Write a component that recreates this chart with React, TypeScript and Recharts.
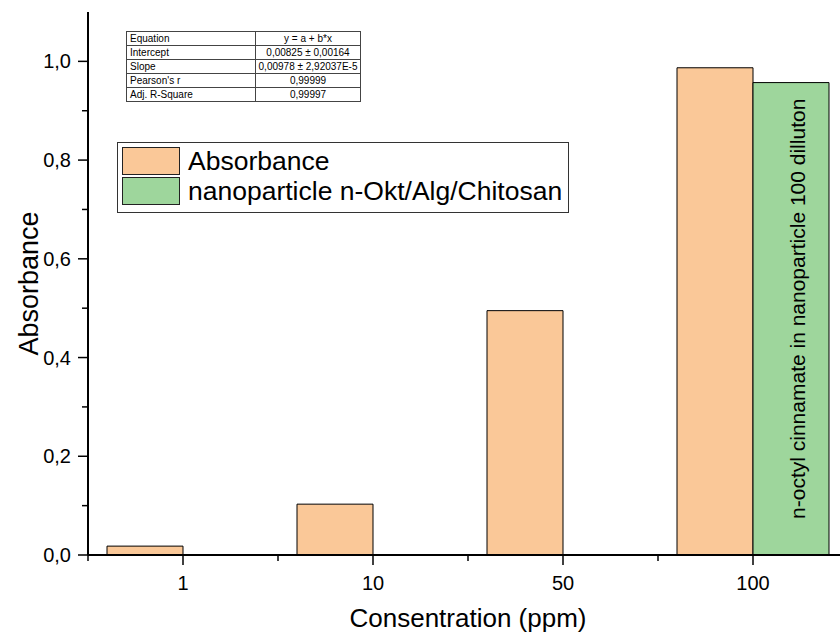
import { BarChart, Bar, XAxis, YAxis, Legend, LabelList, Label } from "recharts"

const concentrations = ["1", "10", "50", "100"]
const absorbance = [0.018, 0.103, 0.495, 0.987]
const nanoparticle = [null, null, null, 0.957]
const yTicks = [0, 0.1, 0.2, 0.3, 0.4, 0.5, 0.6, 0.7, 0.8, 0.9, 1.0]
const fitLabels = ["Equation", "Intercept", "Slope", "Pearson's r", "Adj. R-Square"]
const fitValues = [
  "y = a + b*x",
  "0,00825 ± 0,00164",
  "0,00978 ± 2,92037E-5",
  "0,99999",
  "0,99997",
]
const noteText = "n-octyl cinnamate in nanoparticle 100 dilluton"

const data = concentrations.map((conc, i) => ({
  conc,
  absorbance: absorbance[i],
  nano: nanoparticle[i],
  note: nanoparticle[i] != null ? noteText : "",
}))

const FONT = "'Liberation Sans', Arial, sans-serif"
const ORANGE = "#FAC898"
const GREEN = "#9ED69C"
const HALF_BAND = 95

function YTick(props: any) {
  const { x, y, payload } = props
  const v = payload.value
  const major = Math.round(v * 10) % 2 === 0
  return (
    <g>
      <line x1={x - (major ? 10 : 6)} x2={x} y1={y} y2={y} stroke="#000" strokeWidth={1.5} />
      {major && (
        <text x={x - 17} y={y + 7} textAnchor="end" fontSize={20} fontFamily={FONT} fill="#000">
          {v.toFixed(1).replace(".", ",")}
        </text>
      )}
    </g>
  )
}

function XTick(props: any) {
  const { x, y, payload } = props
  return (
    <g>
      <line x1={x} x2={x} y1={y} y2={y + 10} stroke="#000" strokeWidth={1.5} />
      <line x1={x - HALF_BAND} x2={x - HALF_BAND} y1={y} y2={y + 6} stroke="#000" strokeWidth={1.5} />
      <text x={x} y={y + 35} textAnchor="middle" fontSize={20} fontFamily={FONT} fill="#000">
        {payload.value}
      </text>
    </g>
  )
}

function NoteLabel(props: any) {
  const { x, y, width, height, value } = props
  if (!value || height == null) return null
  const cx = x + width / 2 + 14
  const cy = y + height / 2 - 10
  return (
    <text
      x={cx}
      y={cy}
      transform={`rotate(-90, ${cx}, ${cy})`}
      textAnchor="middle"
      fontSize={21}
      fontFamily={FONT}
      fill="#000"
    >
      {value}
    </text>
  )
}

function LegendBox(props: any) {
  const items = props.payload || []
  return (
    <div
      style={{
        border: "1px solid #333",
        background: "#fff",
        boxSizing: "border-box",
        width: 452,
        height: 71,
        padding: "3px 4px",
        fontFamily: FONT,
      }}
    >
      {items.map((it: any) => (
        <div key={it.value} style={{ display: "flex", alignItems: "center", height: 30 }}>
          <div
            style={{
              width: 58,
              height: 28,
              background: it.color,
              border: "1.5px solid #222",
              boxSizing: "border-box",
              marginRight: 8,
              flex: "none",
            }}
          />
          <span style={{ fontSize: 26.5, color: "#000", lineHeight: "30px", whiteSpace: "nowrap" }}>
            {it.value}
          </span>
        </div>
      ))}
    </div>
  )
}

function FitTable() {
  return (
    <table
      style={{
        position: "absolute",
        left: 126,
        top: 31,
        width: 235,
        borderCollapse: "collapse",
        fontFamily: FONT,
        fontSize: 10,
        color: "#000",
        background: "#fff",
        tableLayout: "fixed",
      }}
    >
      <tbody>
        {fitLabels.map((lab, i) => (
          <tr key={lab} style={{ height: 14 }}>
            <td style={{ border: "1px solid #444", padding: "0 3px", width: 122, lineHeight: "12px" }}>{lab}</td>
            <td
              style={{
                border: "1px solid #444",
                padding: 0,
                textAlign: "center",
                lineHeight: "12px",
                whiteSpace: "nowrap",
              }}
            >
              {fitValues[i]}
            </td>
          </tr>
        ))}
      </tbody>
    </table>
  )
}

export default function App() {
  return (
    <div
      style={{
        position: "fixed",
        left: 0,
        top: 0,
        width: 840,
        height: 634,
        overflow: "hidden",
        background: "#fff",
      }}
    >
      <BarChart
        width={848}
        height={634}
        data={data}
        margin={{ top: 12, right: 0, left: 28, bottom: 0 }}
        barCategoryGap="10%"
        barGap={0}
      >
        <XAxis
          dataKey="conc"
          height={79}
          tickSize={0}
          tickMargin={0}
          tickLine={false}
          axisLine={{ stroke: "#000", strokeWidth: 2 }}
          tick={<XTick />}
          interval={0}
        >
          <Label
            content={(p: any) => {
              const vb = p.viewBox
              return (
                <text
                  x={vb.x + vb.width / 2}
                  y={vb.y + 72}
                  textAnchor="middle"
                  fontSize={26}
                  fontFamily={FONT}
                  fill="#000"
                >
                  Consentration (ppm)
                </text>
              )
            }}
          />
        </XAxis>
        <YAxis
          width={60}
          domain={[0, 1.1]}
          ticks={yTicks}
          tickSize={0}
          tickMargin={0}
          tickLine={false}
          axisLine={{ stroke: "#000", strokeWidth: 2 }}
          tick={<YTick />}
          interval={0}
        >
          <Label
            content={(p: any) => {
              const vb = p.viewBox
              const cx = 38
              const cy = vb.y + vb.height / 2
              return (
                <text
                  x={cx}
                  y={cy}
                  transform={`rotate(-90, ${cx}, ${cy})`}
                  textAnchor="middle"
                  fontSize={27}
                  fontFamily={FONT}
                  fill="#000"
                >
                  Absorbance
                </text>
              )
            }}
          />
        </YAxis>
        <Legend
          verticalAlign="middle"
          align="center"
          layout="horizontal"
          wrapperStyle={{ position: "absolute", left: 117, top: 142, width: 452, height: 71 }}
          content={<LegendBox />}
        />
        <Bar
          dataKey="absorbance"
          name="Absorbance"
          fill={ORANGE}
          stroke="#000"
          strokeWidth={1}
          isAnimationActive={false}
        />
        <Bar
          dataKey="nano"
          name="nanoparticle n-Okt/Alg/Chitosan"
          fill={GREEN}
          stroke="#000"
          strokeWidth={1}
          isAnimationActive={false}
        >
          <LabelList dataKey="note" content={<NoteLabel />} />
        </Bar>
      </BarChart>
      <FitTable />
    </div>
  )
}
